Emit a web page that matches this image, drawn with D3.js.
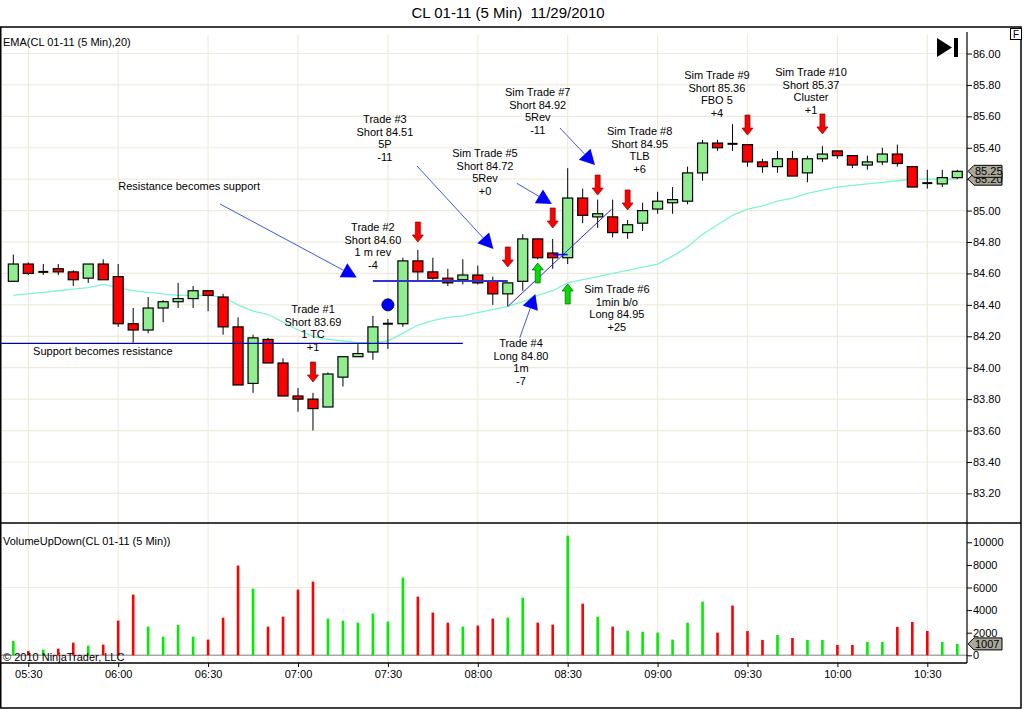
<!DOCTYPE html>
<html lang="en">
<head>
<meta charset="utf-8">
<title>CL 01-11 (5 Min) 11/29/2010</title>
<script src="https://d3js.org/d3.v7.min.js"></script>
<style>
  body { margin: 0; background: #fff; }
  svg { display: block; font-family: "Liberation Sans", Arial, sans-serif; }
  .axis text { font-size: 11px; fill: #000; }
  .axis line { stroke: #000; }
  .axis .domain { display: none; }
  .note { font-size: 11px; fill: #000; }
</style>
</head>
<body>
<svg id="chart" width="1024" height="709"></svg>
<script>
// 5 minute bars, CL 01-11, 11/29/2010
const times = [
  "05:25","05:30","05:35","05:40","05:45","05:50","05:55",
  "06:00","06:05","06:10","06:15","06:20","06:25","06:30","06:35","06:40","06:45","06:50","06:55",
  "07:00","07:05","07:10","07:15","07:20","07:25","07:30","07:35","07:40","07:45","07:50","07:55",
  "08:00","08:05","08:10","08:15","08:20","08:25","08:30","08:35","08:40","08:45","08:50","08:55",
  "09:00","09:05","09:10","09:15","09:20","09:25","09:30","09:35","09:40","09:45","09:50","09:55",
  "10:00","10:05","10:10","10:15","10:20","10:25","10:30","10:35","10:40"
];
const opens = [
  84.55,84.66,84.61,84.63,84.61,84.57,84.66,84.58,84.28,84.24,84.38,84.42,84.44,84.49,84.45,84.26,
  83.90,84.18,84.03,83.82,83.80,83.75,83.94,84.07,84.10,84.28,84.28,84.68,84.61,84.57,84.56,84.59,
  84.55,84.47,84.55,84.82,84.73,84.70,85.08,84.96,84.96,84.86,84.92,85.01,85.05,85.06,85.24,85.43,
  85.43,85.42,85.31,85.28,85.33,85.24,85.33,85.38,85.35,85.29,85.31,85.36,85.28,85.18,85.17,85.21
];
const highs = [
  84.72,84.67,84.66,84.66,84.62,84.66,84.69,84.66,84.38,84.45,84.43,84.54,84.52,84.49,84.47,84.32,
  84.21,84.19,84.06,83.87,83.84,83.97,84.07,84.15,84.33,84.31,84.70,84.75,84.70,84.63,84.69,84.65,
  84.58,84.54,84.85,84.82,84.82,85.27,85.14,85.07,85.07,84.94,85.05,85.12,85.15,85.28,85.45,85.45,
  85.55,85.42,85.33,85.38,85.38,85.35,85.41,85.38,85.35,85.35,85.40,85.42,85.28,85.26,85.26,85.26
];
const lows = [
  84.55,84.59,84.59,84.59,84.52,84.54,84.56,84.26,84.16,84.22,84.29,84.38,84.38,84.36,84.21,83.89,
  83.84,84.03,83.82,83.72,83.60,83.75,83.88,84.07,84.05,84.12,84.26,84.55,84.56,84.52,84.53,84.53,
  84.40,84.39,84.49,84.69,84.63,84.66,84.92,84.89,84.83,84.82,84.87,84.98,84.98,85.04,85.19,85.38,
  85.38,85.28,85.24,85.24,85.22,85.18,85.31,85.33,85.27,85.26,85.29,85.28,85.15,85.14,85.15,85.20
];
const closes = [
  84.66,84.60,84.61,84.61,84.56,84.66,84.56,84.28,84.24,84.38,84.42,84.44,84.49,84.46,84.26,83.89,
  84.19,84.03,83.82,83.80,83.74,83.96,84.07,84.09,84.26,84.28,84.68,84.61,84.57,84.54,84.59,84.54,
  84.47,84.54,84.82,84.70,84.70,85.08,84.97,84.98,84.86,84.91,85.00,85.06,85.07,85.24,85.43,85.40,
  85.42,85.31,85.28,85.33,85.22,85.33,85.36,85.35,85.29,85.31,85.36,85.30,85.15,85.17,85.21,85.25
];
const ema20 = [
  84.46,84.47,84.48,84.49,84.50,84.51,84.53,84.51,84.49,84.48,84.47,84.46,84.46,84.46,84.45,84.40,
  84.36,84.34,84.29,84.24,84.20,84.18,84.17,84.16,84.16,84.17,84.22,84.27,84.30,84.32,84.33,84.35,
  84.37,84.39,84.42,84.46,84.49,84.54,84.56,84.58,84.60,84.62,84.64,84.66,84.71,84.77,84.85,84.91,
  84.97,85.01,85.03,85.06,85.08,85.11,85.13,85.15,85.16,85.17,85.18,85.19,85.20,85.20,85.20,85.20
];
const volumes = [
  1270,380,500,590,1120,855,944,3070,5370,2540,1650,2680,1650,1390,3330,7940,
  5900,2540,3420,5810,6520,3250,3070,2890,3690,2980,6870,5190,3780,2890,2540,2630,
  3250,3330,5100,2890,2710,10590,4570,3420,2540,2180,2090,2010,1390,2890,4750,2010,
  4400,2150,1360,1800,1530,1360,1360,915,915,1180,1180,2510,2950,2150,1180,1007
];

const timeTicks = ["05:30","06:00","06:30","07:00","07:30","08:00","08:30","09:00","09:30","10:00","10:30"];
const priceTicks = [83.2,83.4,83.6,83.8,84.0,84.2,84.4,84.6,84.8,85.0,85.2,85.4,85.6,85.8,86.0];
const volumeTicks = [0,2000,4000,6000,8000,10000];
const volumeGrid = [6000];

// trade notes: anchor time, price of first text line
const tradeNotes = [
  { at: "07:05",   price: 84.374, lines: ["Trade #1", "Short 83.69", "1 TC", "+1"] },
  { at: "07:25",   price: 84.896, lines: ["Trade #2", "Short 84.60", "1 m rev", "-4"] },
  { at: "07:29",   price: 85.583, lines: ["Trade #3", "Short 84.51", "5P", "-11"] },
  { at: "08:02.4", price: 85.367, lines: ["Sim Trade #5", "Short 84.72", "5Rev", "+0"] },
  { at: "08:20",   price: 85.755, lines: ["Sim Trade #7", "Short 84.92", "5Rev", "-11"] },
  { at: "08:54",   price: 85.507, lines: ["Sim Trade #8", "Short 84.95", "TLB", "+6"] },
  { at: "09:19.8", price: 85.863, lines: ["Sim Trade #9", "Short 85.36", "FBO 5", "+4"] },
  { at: "09:51.2", price: 85.882, lines: ["Sim Trade #10", "Short 85.37", "Cluster", "+1"] },
  { at: "08:14.4", price: 84.157, lines: ["Trade #4", "Long 84.80", "1m", "-7"] },
  { at: "08:46.4", price: 84.501, lines: ["Sim Trade #6", "1min b/o", "Long 84.95", "+25"] }
];
const sideNotes = [
  { at: "06:00",   price: 85.157, text: "Resistance becomes support" },
  { at: "05:31.6", price: 84.106, text: "Support becomes resistance" }
];
// arrows with triangle heads: from -> to
const pointerLines = [
  { from: ["06:34", 85.042],   to: ["07:19.6", 84.575] },
  { from: ["07:39.7", 85.284], to: ["08:05.2", 84.756] },
  { from: ["08:13", 85.174],   to: ["08:24.7", 85.042] },
  { from: ["08:27.4", 85.526], to: ["08:39.1", 85.290] },
  { from: ["08:14", 84.190],   to: ["08:19.2", 84.469] }
];
// drawn price lines
const levelLines = [
  { from: ["05:21", 84.155],   to: ["07:55", 84.155],   color: "#0000b4", w: 1.3 },
  { from: ["07:25", 84.552],   to: ["08:10", 84.552],   color: "#3434c8", w: 2 },
  { from: ["08:10.2", 84.393], to: ["08:44.6", 85.008], color: "#2828e0", w: 1 },
  { from: ["08:25", 84.72],    to: ["08:30", 84.72],    color: "#0000ff", w: 1.5 }
];
const shortSignals = [ ["07:05",83.909], ["07:40",84.800], ["08:10",84.641], ["08:25",84.889],
                       ["08:40",85.099], ["08:50",85.004], ["09:30",85.481], ["09:55",85.488] ];
const longSignals = [ ["08:20",84.667], ["08:30",84.533] ];
const entryDot = ["07:30", 84.40];

function tm(s) {
  const [h, m] = s.split(":");
  return new Date(new Date(2010, 10, 29, +h, 0, 0).getTime() + parseFloat(m) * 60000);
}

const svg = d3.select("#chart");
const axisX = 967, panelTop = 27, split = 523, volBottom = 663, rightEdge = 1021, bottomEdge = 708;
const gridColor = "#efebdc";

const x = d3.scaleTime().domain([tm("05:30"), tm("10:30")]).range([28.3, 927.3]);
const y = d3.scaleLinear().domain([83.2, 86.0]).range([493.4, 53.5]);
const yv = d3.scaleLinear().domain([0, 10000]).range([655.3, 542.3]);

// title
svg.append("text").attr("x", 508).attr("y", 18).attr("text-anchor", "middle")
  .style("font-size", "15px").style("white-space", "pre")
  .text("CL 01-11 (5 Min)  11/29/2010");

svg.append("defs").append("clipPath").attr("id", "pclip")
  .append("rect").attr("x", 1).attr("y", panelTop + 1).attr("width", axisX - 1).attr("height", split - panelTop - 1);

// grids
const grid = svg.append("g").attr("stroke", gridColor).attr("stroke-width", 1.2);
grid.selectAll(".hg").data(priceTicks).join("line")
  .attr("x1", 1).attr("x2", axisX).attr("y1", d => y(d)).attr("y2", d => y(d));
grid.selectAll(".vg").data(timeTicks).join("line")
  .attr("x1", d => x(tm(d))).attr("x2", d => x(tm(d))).attr("y1", 35).attr("y2", volBottom);
grid.selectAll(".vgh").data(volumeGrid).join("line")
  .attr("x1", 1).attr("x2", axisX).attr("y1", d => yv(d)).attr("y2", d => yv(d));

const bars = times.map((t, i) => ({ t: tm(t), o: opens[i], h: highs[i], l: lows[i], c: closes[i], v: volumes[i] }));

const plot = svg.append("g").attr("clip-path", "url(#pclip)");

// EMA
plot.append("path").datum(ema20)
  .attr("fill", "none").attr("stroke", "#7ff5d2").attr("stroke-width", 1.3)
  .attr("d", d3.line().x((d, i) => x(tm(times[i]))).y(d => y(d)));

// candles
const bw = 10;
const cg = plot.selectAll(".candle").data(bars).join("g");
cg.append("line").attr("stroke", "#000").attr("stroke-width", 1)
  .attr("x1", d => x(d.t)).attr("x2", d => x(d.t)).attr("y1", d => y(d.h)).attr("y2", d => y(d.l));
cg.each(function (d) {
  const g = d3.select(this);
  const y0 = y(Math.max(d.o, d.c)), y1 = y(Math.min(d.o, d.c));
  if (y1 - y0 < 2) {
    g.append("line").attr("stroke", "#000").attr("stroke-width", 2)
      .attr("x1", x(d.t) - bw / 2).attr("x2", x(d.t) + bw / 2)
      .attr("y1", (y0 + y1) / 2).attr("y2", (y0 + y1) / 2);
  } else {
    g.append("rect").attr("x", x(d.t) - bw / 2).attr("y", y0)
      .attr("width", bw).attr("height", y1 - y0)
      .attr("fill", d.c >= d.o ? "#90ee90" : "#ff0000")
      .attr("stroke", "#000").attr("stroke-width", 1.2);
  }
});

// drawn lines
plot.selectAll(".lvl").data(levelLines).join("line")
  .attr("x1", d => x(tm(d.from[0]))).attr("y1", d => y(d.from[1]))
  .attr("x2", d => x(tm(d.to[0]))).attr("y2", d => y(d.to[1]))
  .attr("stroke", d => d.color).attr("stroke-width", d => d.w);

// pointer arrows
pointerLines.forEach(p => {
  const x0 = x(tm(p.from[0])), y0 = y(p.from[1]), x1 = x(tm(p.to[0])), y1 = y(p.to[1]);
  const a = Math.atan2(y1 - y0, x1 - x0), len = 15, hw = 8;
  const bx = x1 - len * Math.cos(a), by = y1 - len * Math.sin(a);
  plot.append("line").attr("x1", x0).attr("y1", y0).attr("x2", bx).attr("y2", by)
    .attr("stroke", "#3a5ae8").attr("stroke-width", 1);
  plot.append("path").attr("fill", "#0000ff")
    .attr("d", `M${x1},${y1}L${bx - hw * Math.sin(a)},${by + hw * Math.cos(a)}L${bx + hw * Math.sin(a)},${by - hw * Math.cos(a)}Z`);
});

// signal arrows
plot.selectAll(".short").data(shortSignals).join("path")
  .attr("fill", "#ff0000").attr("stroke", "#8a0000").attr("stroke-width", 0.7)
  .attr("d", d => {
    const cx = x(tm(d[0])), ty = y(d[1]);
    return `M${cx - 2.5},${ty - 20}L${cx + 2.5},${ty - 20}L${cx + 2.5},${ty - 7}L${cx + 5.5},${ty - 7}L${cx},${ty}L${cx - 5.5},${ty - 7}L${cx - 2.5},${ty - 7}Z`;
  });
plot.selectAll(".long").data(longSignals).join("path")
  .attr("fill", "#00e000").attr("stroke", "#006000").attr("stroke-width", 0.7)
  .attr("d", d => {
    const cx = x(tm(d[0])), ty = y(d[1]);
    return `M${cx - 2.5},${ty + 20}L${cx + 2.5},${ty + 20}L${cx + 2.5},${ty + 7}L${cx + 5.5},${ty + 7}L${cx},${ty}L${cx - 5.5},${ty + 7}L${cx - 2.5},${ty + 7}Z`;
  });

plot.append("circle").attr("cx", x(tm(entryDot[0]))).attr("cy", y(entryDot[1])).attr("r", 6)
  .attr("fill", "#0000ff").attr("stroke", "#000060").attr("stroke-width", 1);

// text notes
tradeNotes.forEach(n => {
  const t = plot.append("text").attr("class", "note").attr("text-anchor", "middle");
  n.lines.forEach((s, i) => {
    t.append("tspan").attr("x", x(tm(n.at))).attr("y", y(n.price) + i * 12.7 + 4).text(s);
  });
});
plot.selectAll(".side").data(sideNotes).join("text").attr("class", "note")
  .attr("x", d => x(tm(d.at))).attr("y", d => y(d.price) + 4).text(d => d.text);

// indicator labels
svg.append("text").attr("class", "note").attr("x", 3).attr("y", 45.5).text("EMA(CL 01-11 (5 Min),20)");
svg.append("text").attr("class", "note").attr("x", 3).attr("y", 545).text("VolumeUpDown(CL 01-11 (5 Min))");

// volume
svg.append("line").attr("x1", 1).attr("x2", axisX).attr("y1", yv(0)).attr("y2", yv(0))
  .attr("stroke", "#a8a8a8").attr("stroke-width", 1.5);
svg.selectAll(".vol").data(bars).join("rect")
  .attr("x", d => x(d.t) - 1.3).attr("width", 2.6)
  .attr("y", d => yv(d.v)).attr("height", d => yv(0) - yv(d.v))
  .attr("fill", d => d.c >= d.o ? "#00ee00" : "#ff0000");
svg.append("text").attr("class", "note").attr("x", 3).attr("y", 661).text("\u00a9 2010 NinjaTrader, LLC");

// frame
const frame = svg.append("g").attr("stroke", "#000").attr("fill", "none");
frame.append("rect").attr("x", 0.75).attr("y", panelTop).attr("width", rightEdge - 0.75).attr("height", bottomEdge - panelTop).attr("stroke-width", 1.5);
frame.append("line").attr("x1", 0).attr("x2", rightEdge).attr("y1", split).attr("y2", split).attr("stroke-width", 1.5);
frame.append("line").attr("x1", 0).attr("x2", axisX).attr("y1", volBottom).attr("y2", volBottom).attr("stroke-width", 1.5);
frame.append("line").attr("x1", axisX).attr("x2", axisX).attr("y1", 32).attr("y2", volBottom).attr("stroke-width", 1.2);

// axes
svg.append("g").attr("class", "axis").attr("transform", `translate(${axisX},0)`)
  .call(d3.axisRight(y).tickValues(priceTicks).tickSize(5).tickPadding(1).tickFormat(d3.format(".2f")));
svg.append("g").attr("class", "axis").attr("transform", `translate(${axisX},0)`)
  .call(d3.axisRight(yv).tickValues(volumeTicks).tickSize(5).tickPadding(1).tickFormat(d3.format("d")));
svg.append("g").attr("class", "axis").attr("transform", `translate(0,${volBottom})`)
  .call(d3.axisBottom(x).tickValues(timeTicks.map(tm)).tickSize(4).tickPadding(3).tickFormat(d3.timeFormat("%H:%M")));

// value flags on the right axis
function flag(yy, label) {
  const g = svg.append("g");
  g.append("path").attr("fill", "#aba79a").attr("stroke", "#000").attr("stroke-width", 1)
    .attr("d", `M${axisX + 1},${yy}L${axisX + 7},${yy - 6}L${axisX + 35},${yy - 6}L${axisX + 35},${yy + 6}L${axisX + 7},${yy + 6}Z`);
  g.append("text").attr("x", axisX + 8).attr("y", yy + 4).style("font-size", "11px").text(label);
}
flag(y(ema20[ema20.length - 1]), d3.format(".2f")(ema20[ema20.length - 1]));
flag(y(closes[closes.length - 1]), d3.format(".2f")(closes[closes.length - 1]));
flag(yv(volumes[volumes.length - 1]), String(volumes[volumes.length - 1]));

// top-right controls
svg.append("path").attr("fill", "#000").attr("d", "M937,38L937,57L952,47.5Z");
svg.append("rect").attr("x", 954).attr("y", 38).attr("width", 4).attr("height", 19).attr("fill", "#000");
svg.append("rect").attr("x", 1010.5).attr("y", 28.5).attr("width", 11).attr("height", 11)
  .attr("fill", "#fff").attr("stroke", "#000");
svg.append("text").attr("x", 1016).attr("y", 38).attr("text-anchor", "middle").style("font-size", "10px").text("F");
</script>
</body>
</html>
